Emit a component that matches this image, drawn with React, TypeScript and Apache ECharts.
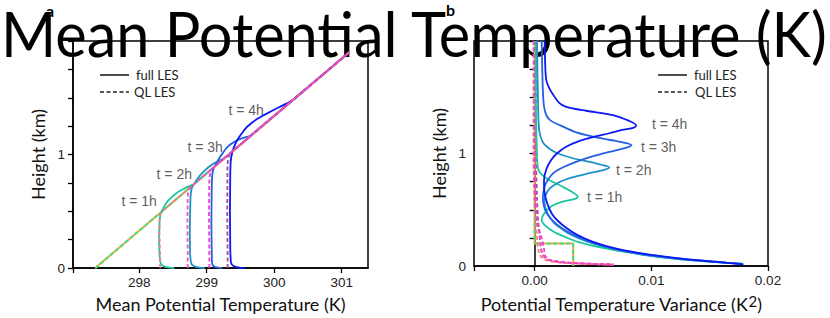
import React, { useEffect, useRef } from "react";
import * as echarts from "echarts";

// ---------- Panel a: mean potential temperature (K) vs height (km) ----------
const meanInit: [number, number][] = [[297.35, 0], [301.11, 1.9]];
const meanFull1h: [number, number][] = [[298.52, 0], [298.45, 0.004], [298.39, 0.01], [298.35, 0.02], [298.325, 0.035], [298.31, 0.06], [298.30, 0.12], [298.295, 0.25], [298.30, 0.38], [298.305, 0.43], [298.315, 0.47], [298.335, 0.5], [298.36, 0.53], [298.395, 0.565], [298.43, 0.595], [298.475, 0.62], [298.52, 0.645], [298.57, 0.667], [298.62, 0.685], [298.67, 0.701], [298.72, 0.715], [298.76, 0.726], [298.8, 0.735], [301.11, 1.9]];
const meanFull2h: [number, number][] = [[298.97, 0], [298.9, 0.004], [298.84, 0.01], [298.8, 0.02], [298.775, 0.035], [298.765, 0.06], [298.755, 0.12], [298.75, 0.3], [298.755, 0.5], [298.76, 0.62], [298.768, 0.67], [298.78, 0.705], [298.8, 0.73], [298.83, 0.755], [298.87, 0.79], [298.9, 0.815], [298.94, 0.84], [298.985, 0.866], [299.03, 0.89], [299.08, 0.912], [299.13, 0.93], [299.18, 0.945], [299.22, 0.955], [299.25, 0.962], [301.11, 1.9]];
const meanFull3h: [number, number][] = [[299.23, 0], [299.17, 0.004], [299.12, 0.01], [299.095, 0.02], [299.083, 0.035], [299.078, 0.06], [299.075, 0.15], [299.07, 0.4], [299.075, 0.7], [299.08, 0.8], [299.09, 0.85], [299.105, 0.88], [299.13, 0.91], [299.17, 0.95], [299.2, 0.98], [299.235, 1.01], [299.27, 1.04], [299.31, 1.068], [299.36, 1.092], [299.42, 1.115], [299.48, 1.133], [299.53, 1.145], [299.58, 1.154], [299.64, 1.162], [301.11, 1.9]];
const meanFull4h: [number, number][] = [[299.56, 0], [299.49, 0.004], [299.43, 0.01], [299.39, 0.02], [299.368, 0.035], [299.357, 0.06], [299.35, 0.15], [299.345, 0.5], [299.35, 0.85], [299.355, 0.93], [299.365, 0.98], [299.385, 1.03], [299.405, 1.065], [299.43, 1.1], [299.46, 1.135], [299.5, 1.17], [299.55, 1.21], [299.6, 1.245], [299.67, 1.28], [299.74, 1.31], [299.815, 1.337], [299.89, 1.36], [299.97, 1.386], [300.05, 1.41], [300.12, 1.431], [300.19, 1.45], [300.24, 1.466], [300.28, 1.48], [301.11, 1.9]];
const meanQL1h: [number, number][] = [[298.31, 0], [298.31, 0.1], [298.3, 0.3], [298.302, 0.42], [298.308, 0.46], [298.32, 0.49], [301.11, 1.9]];
const meanQL2h: [number, number][] = [[298.72, 0], [298.72, 0.1], [298.715, 0.4], [298.718, 0.6], [298.723, 0.65], [298.735, 0.685], [298.755, 0.71], [301.11, 1.9]];
const meanQL3h: [number, number][] = [[299.04, 0], [299.04, 0.1], [299.035, 0.5], [299.038, 0.75], [299.045, 0.81], [299.06, 0.85], [299.08, 0.875], [301.11, 1.9]];
const meanQL4h: [number, number][] = [[299.31, 0], [299.31, 0.1], [299.305, 0.5], [299.308, 0.9], [299.316, 0.96], [299.335, 0.995], [299.378, 1.025], [301.11, 1.9]];

// ---------- Panel b: potential temperature variance (K^2) vs height (km) ----------
const varInit: [number, number][] = [[0, 2.0], [0, 0.2], [0.0033, 0.2], [0.0033, 0]];
const varFull1h: [number, number][] = [[0.0001, 2.0], [0.0001, 1.5], [0.00015, 1.2], [0.0002, 1.0], [0.0003, 0.86], [0.001, 0.78], [0.0022, 0.715], [0.0031, 0.665], [0.0037, 0.615], [0.0034, 0.595], [0.0024, 0.573], [0.0015, 0.535], [0.001, 0.49], [0.0007, 0.445], [0.0006, 0.41], [0.0008, 0.37], [0.0013, 0.327], [0.0019, 0.29], [0.0027, 0.254], [0.0037, 0.215], [0.005, 0.18], [0.0064, 0.15], [0.0079, 0.123], [0.01, 0.092], [0.0121, 0.064], [0.0143, 0.044], [0.0164, 0.029], [0.0178, 0.02]];
const varFull2h: [number, number][] = [[0.0002, 2.0], [0.0003, 1.4], [0.0004, 1.2], [0.0007, 1.1], [0.0013, 1.04], [0.002, 1.0], [0.0032, 0.96], [0.0045, 0.93], [0.0057, 0.9], [0.0064, 0.875], [0.0058, 0.85], [0.0047, 0.825], [0.0033, 0.79], [0.0021, 0.745], [0.0013, 0.69], [0.0009, 0.62], [0.00085, 0.56], [0.001, 0.49], [0.0013, 0.43], [0.0017, 0.38], [0.0022, 0.34], [0.0028, 0.295], [0.0037, 0.25], [0.005, 0.2], [0.0068, 0.15], [0.0092, 0.102], [0.012, 0.066], [0.015, 0.038], [0.0178, 0.018]];
const varFull3h: [number, number][] = [[0.0006, 2.0], [0.0007, 1.57], [0.0008, 1.42], [0.001, 1.34], [0.0014, 1.29], [0.0022, 1.25], [0.0035, 1.19], [0.005, 1.15], [0.0065, 1.12], [0.0077, 1.095], [0.0083, 1.073], [0.0078, 1.05], [0.0064, 1.015], [0.0048, 0.97], [0.0036, 0.927], [0.0024, 0.875], [0.0016, 0.825], [0.0011, 0.76], [0.00086, 0.708], [0.0007, 0.605], [0.0008, 0.53], [0.001, 0.474], [0.0014, 0.42], [0.0019, 0.37], [0.0026, 0.32], [0.0035, 0.27], [0.0049, 0.21], [0.0068, 0.155], [0.0093, 0.105], [0.0122, 0.068], [0.0152, 0.04], [0.0178, 0.017]];
const varFull4h: [number, number][] = [[0.00086, 2.0], [0.0009, 1.8], [0.001, 1.65], [0.0013, 1.57], [0.0016, 1.52], [0.0021, 1.45], [0.0027, 1.415], [0.0044, 1.38], [0.0067, 1.342], [0.0081, 1.29], [0.0087, 1.25], [0.0085, 1.23], [0.0075, 1.21], [0.0064, 1.18], [0.005, 1.145], [0.0038, 1.11], [0.0027, 1.06], [0.0019, 1.0], [0.0014, 0.94], [0.001, 0.86], [0.0008, 0.76], [0.00085, 0.65], [0.0011, 0.55], [0.0015, 0.46], [0.002, 0.4], [0.0027, 0.34], [0.0036, 0.28], [0.005, 0.215], [0.007, 0.155], [0.0096, 0.105], [0.0126, 0.066], [0.0155, 0.038], [0.0179, 0.015]];
const varQL1h: [number, number][] = [[0, 2.0], [0, 0.8], [0.0001, 0.4], [0.0002, 0.25], [0.0003, 0.15], [0.0005, 0.09], [0.001, 0.05], [0.0025, 0.028], [0.0045, 0.018], [0.007, 0.01]];
const varQL2h: [number, number][] = [[-0.0001, 2.0], [-0.0001, 1.0], [0, 0.6], [0.0002, 0.4], [0.0004, 0.3], [0.0005, 0.2], [0.0006, 0.12], [0.0009, 0.07], [0.0018, 0.04], [0.0035, 0.025], [0.0055, 0.016], [0.0068, 0.012]];
const varQL3h: [number, number][] = [[0, 2.0], [0, 0.9], [0.0001, 0.5], [0.0003, 0.35], [0.0006, 0.25], [0.0008, 0.15], [0.0009, 0.09], [0.0014, 0.05], [0.003, 0.03], [0.005, 0.02], [0.0066, 0.014]];
const varQL4h: [number, number][] = [[0.0001, 2.0], [0.0001, 1.1], [0.0002, 0.6], [0.0003, 0.4], [0.0004, 0.3], [0.0005, 0.18], [0.0007, 0.1], [0.0012, 0.055], [0.0028, 0.03], [0.005, 0.018], [0.0068, 0.013]];

// ---------- annotations & ticks ----------
const timeLabels = ["t = 1h", "t = 2h", "t = 3h", "t = 4h"];
const meanLabelPos: [number, number][] = [[298.0, 0.588], [298.52, 0.825], [298.978, 1.07], [299.585, 1.39]];
const varLabelPos: [number, number][] = [[0.006, 0.614], [0.00849, 0.851], [0.01063, 1.061], [0.01157, 1.263]];
const meanTicks = [298, 299, 300, 301];
const varTicks = [0, 0.01, 0.02];
const heightTicks = [0, 1];

const fullColors = ["#1cc6a2", "#1e92c8", "#2460e2", "#0b18f2"];
const qlColors = ["#f3807c", "#f55aae", "#f23ccb", "#a8489a"];
const initSolid = "#f3a547";
const initDash = "#42e07c";

const TICK_FONT = "'Liberation Sans', Arial, sans-serif";
const HUM_FONT = "Lato, 'Open Sans', sans-serif";

export default function App() {
  const ref = useRef<HTMLDivElement>(null);
  useEffect(() => {
    if (!ref.current) return;
    const chart = echarts.init(ref.current, undefined, { renderer: "svg" });

    const lineSeries = (
      name: string,
      data: [number, number][],
      color: string,
      idx: number,
      dashed: boolean,
      smooth: number,
      width = 1.8
    ) => ({
      name,
      type: "line",
      xAxisIndex: idx,
      yAxisIndex: idx,
      data,
      showSymbol: false,
      smooth: smooth > 0 ? smooth : false,
      silent: true,
      lineStyle: { color, width, type: dashed ? [4, 2.5] : "solid" },
    });

    const yAxis = (idx: number) => ({
      type: "value",
      gridIndex: idx,
      min: 0,
      max: 2,
      interval: 0.25,
      name: "Height (km)",
      nameLocation: "middle",
      nameGap: 26,
      nameTextStyle: { fontFamily: HUM_FONT, fontSize: 18, color: "#111" },
      axisLine: { show: true, lineStyle: { color: "#000", width: 1.5 } },
      axisTick: { show: true, inside: false, length: 5, lineStyle: { color: "#000", width: 1.3 } },
      axisLabel: {
        margin: 8,
        fontFamily: TICK_FONT,
        fontSize: 13.5,
        color: "#222",
        formatter: (v: number) => (heightTicks.includes(v) ? String(v) : ""),
      },
      splitLine: { show: false },
    });

    const series: any[] = [
      lineSeries("t0 full", meanInit, initSolid, 0, false, 0, 2),
      lineSeries("t0 QL", meanInit, initDash, 0, true, 0, 2),
      lineSeries("full 1h", meanFull1h, fullColors[0], 0, false, 0),
      lineSeries("full 2h", meanFull2h, fullColors[1], 0, false, 0),
      lineSeries("full 3h", meanFull3h, fullColors[2], 0, false, 0),
      lineSeries("full 4h", meanFull4h, fullColors[3], 0, false, 0),
      lineSeries("QL 4h", meanQL4h, qlColors[3], 0, true, 0),
      lineSeries("QL 1h", meanQL1h, qlColors[0], 0, true, 0),
      lineSeries("QL 2h", meanQL2h, qlColors[1], 0, true, 0),
      lineSeries("QL 3h", meanQL3h, qlColors[2], 0, true, 0),

      lineSeries("var t0 full", varInit, initSolid, 1, false, 0, 2),
      lineSeries("var t0 QL", varInit, initDash, 1, true, 0, 2),
      lineSeries("var QL 4h", varQL4h, qlColors[3], 1, true, 0.3),
      lineSeries("var QL 1h", varQL1h, qlColors[0], 1, true, 0.3),
      lineSeries("var QL 2h", varQL2h, qlColors[1], 1, true, 0.3),
      lineSeries("var QL 3h", varQL3h, qlColors[2], 1, true, 0.3),
      lineSeries("var full 1h", varFull1h, fullColors[0], 1, false, 0.3),
      lineSeries("var full 2h", varFull2h, fullColors[1], 1, false, 0.3),
      lineSeries("var full 3h", varFull3h, fullColors[2], 1, false, 0.3),
      lineSeries("var full 4h", varFull4h, fullColors[3], 1, false, 0.3),
    ];

    const labelSeries = (idx: number, pos: [number, number][]) => ({
      type: "scatter",
      xAxisIndex: idx,
      yAxisIndex: idx,
      symbolSize: 0,
      silent: true,
      data: pos.map((p, i) => [p[0], p[1], timeLabels[i]]),
      label: {
        show: true,
        position: "inside",
        formatter: (p: any) => p.value[2],
        fontFamily: TICK_FONT,
        fontSize: 14,
        color: "#333",
      },
      z: 5,
    });
    series.push(labelSeries(0, meanLabelPos), labelSeries(1, varLabelPos));

    const legend = (x0: number, tx1: number, tx2: number) => [
      { type: "line", shape: { x1: x0, y1: 75, x2: x0 + 29, y2: 75 }, style: { stroke: "#222", lineWidth: 1.6 } },
      { type: "line", shape: { x1: x0, y1: 92, x2: x0 + 29, y2: 92 }, style: { stroke: "#222", lineWidth: 1.6, lineDash: [4, 2.5] } },
      { type: "text", x: tx1, y: 75, style: { text: "full LES", fontFamily: HUM_FONT, fontSize: 13, fill: "#222", verticalAlign: "middle" } },
      { type: "text", x: tx2, y: 91.5, style: { text: "QL LES", fontFamily: HUM_FONT, fontSize: 13, fill: "#222", verticalAlign: "middle" } },
    ];

    chart.setOption({
      animation: false,
      backgroundColor: "#fff",
      grid: [
        { left: 73, top: 41, width: 295, height: 228, show: true, borderColor: "#000", borderWidth: 1.5, backgroundColor: "transparent" },
        { left: 474, top: 41, width: 294, height: 228, show: true, borderColor: "#000", borderWidth: 1.5, backgroundColor: "transparent" },
      ],
      xAxis: [
        {
          type: "value",
          gridIndex: 0,
          min: 297.02,
          max: 301.39,
          name: "Mean Potential Temperature (K)",
          nameLocation: "middle",
          nameGap: 27,
          nameTextStyle: { fontFamily: HUM_FONT, fontSize: 18, color: "#111" },
          axisLine: { show: true, onZero: false, lineStyle: { color: "#000", width: 1.5 } },
          axisTick: { show: true, length: 5, customValues: [297.02, ...meanTicks], lineStyle: { color: "#000", width: 1.3 } },
          axisLabel: { customValues: meanTicks, margin: 7, fontFamily: TICK_FONT, fontSize: 13.5, color: "#222", formatter: (v: number) => String(v) },
          splitLine: { show: false },
        },
        {
          type: "value",
          gridIndex: 1,
          min: -0.0052,
          max: 0.02,
          name: "Potential Temperature Variance (K{sup|2})",
          nameLocation: "middle",
          nameGap: 27,
          nameTextStyle: {
            fontFamily: HUM_FONT,
            fontSize: 18,
            color: "#111",
            rich: { sup: { fontFamily: HUM_FONT, fontSize: 15, color: "#111", verticalAlign: "bottom", padding: [0, 0, 7, 0] } },
          },
          axisLine: { show: true, onZero: false, lineStyle: { color: "#000", width: 1.5 } },
          axisTick: { show: true, length: 5, customValues: [-0.0052, ...varTicks], lineStyle: { color: "#000", width: 1.3 } },
          axisLabel: { customValues: varTicks, margin: 7, fontFamily: TICK_FONT, fontSize: 13.5, color: "#222", formatter: (v: number) => v.toFixed(2) },
          splitLine: { show: false },
        },
      ],
      yAxis: [yAxis(0), yAxis(1)],
      graphic: [
        {
          type: "text",
          x: 1,
          y: 64,
          z: -1,
          scaleX: 0.975,
          style: { text: "Mean Potential Temperature (K)", fontFamily: HUM_FONT, fontSize: 61, fill: "#000", verticalAlign: "bottom" },
        },
        { type: "text", x: 46, y: 18, style: { text: "a", fontFamily: HUM_FONT, fontWeight: "bold", fontSize: 16, fill: "#000", verticalAlign: "bottom" } },
        { type: "text", x: 446, y: 17, style: { text: "b", fontFamily: HUM_FONT, fontWeight: "bold", fontSize: 16, fill: "#000", verticalAlign: "bottom" } },
        ...legend(100, 136, 134),
        ...legend(658, 694, 695),
      ],
      series,
    });
    return () => chart.dispose();
  }, []);
  return <div ref={ref} style={{ position: "fixed", left: 0, top: 0, width: 830, height: 318 }} />;
}
